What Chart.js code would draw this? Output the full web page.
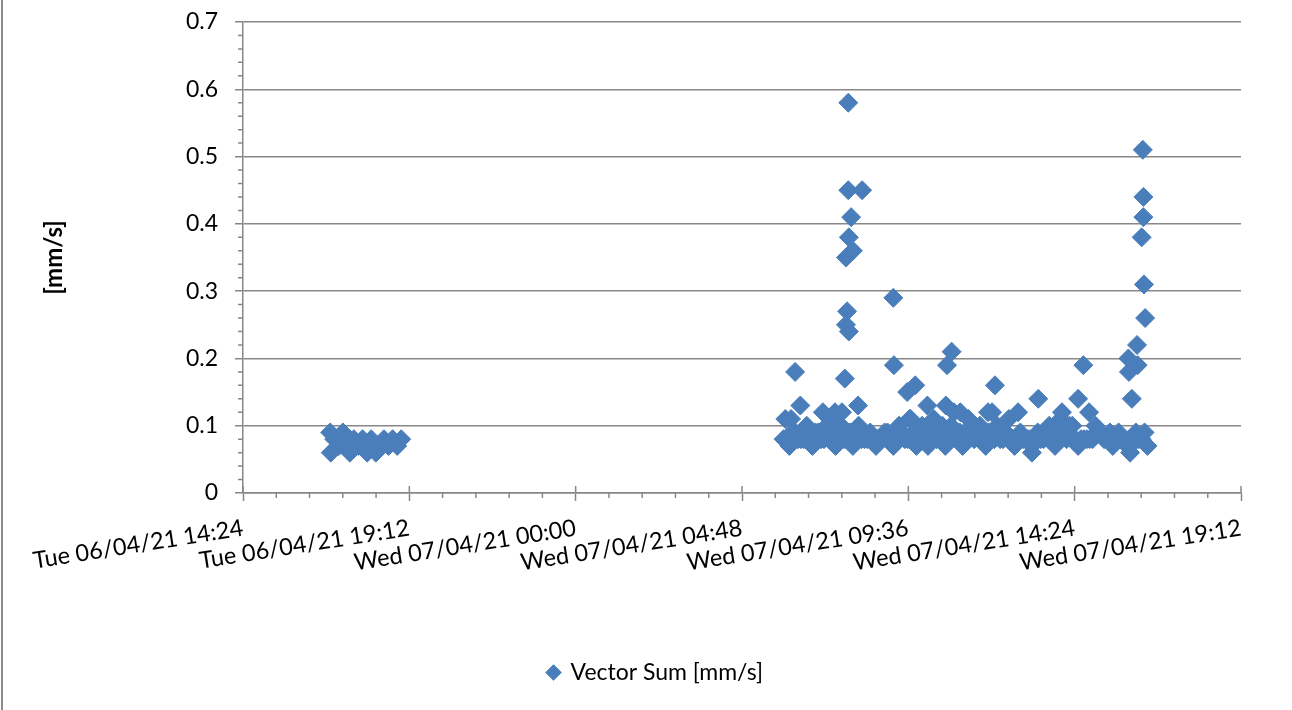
<!DOCTYPE html>
<html>
<head>
<meta charset="utf-8">
<title>Vector Sum [mm/s]</title>
<script src="https://cdn.jsdelivr.net/npm/chart.js@4.4.1/dist/chart.umd.min.js"></script>
<style>
  html, body { margin: 0; padding: 0; background: #fff; }
  #frame { position: relative; width: 1292px; height: 710px; }
  #frame .edge { position: absolute; left: 1px; top: 0; width: 2px; height: 710px; background: #8c8c8c; }
  canvas { display: block; }
</style>
</head>
<body>
<div id="frame">
  <canvas id="chart" width="1292" height="710"></canvas>
  <div class="edge"></div>
</div>
<script>
// Vector sum readings - Tue 06/04/21 evening + Wed 07/04/21 working day
const seriesLabel = 'Vector Sum [mm/s]';
const yTitle = '[mm/s]';

const xTickLabels = [
    'Tue 06/04/21 14:24', 'Tue 06/04/21 19:12', 'Wed 07/04/21 00:00',
    'Wed 07/04/21 04:48', 'Wed 07/04/21 09:36', 'Wed 07/04/21 14:24',
    'Wed 07/04/21 19:12'
];
const xStart = '14:24';   // Tue
const xEnd = '19:12';     // Wed
const xStep = 288;        // minutes between labels (4:48)
const yMin = 0, yMax = 0.7, yStep = 0.1;

// Tue 06/04
const tueTimes = [
    '16:55', '16:56', '17:02', '17:10', '17:17', '17:24', '17:29', '17:36', '17:44', '17:51',
    '17:59', '18:06', '18:14', '18:21', '18:28', '18:36', '18:43', '18:51', '18:58'
];
const tueValues = [
    0.09, 0.06, 0.08, 0.07, 0.09, 0.08, 0.06, 0.08, 0.07, 0.08,
    0.06, 0.08, 0.06, 0.07, 0.08, 0.07, 0.08, 0.07, 0.08
];

// Wed 07/04 - regular readings
const wedTimes = [
    '06:00','06:05','06:10','06:15','06:20','06:25','06:30','06:35','06:40','06:45','06:50','06:55',
    '07:00','07:05','07:10','07:15','07:20','07:25','07:30','07:35','07:40','07:45','07:50','07:55',
    '08:00','08:05','08:10','08:15','08:20','08:25','08:30','08:35','08:40','08:45','08:50','08:55',
    '09:00','09:05','09:10','09:15','09:20','09:25','09:30','09:35','09:40','09:45','09:50','09:55',
    '10:00','10:05','10:10','10:15','10:20','10:25','10:30','10:35','10:40','10:45','10:50','10:55',
    '11:00','11:05','11:10','11:15','11:20','11:25','11:30','11:35','11:40','11:45','11:50','11:55',
    '12:00','12:05','12:10','12:15','12:20','12:25','12:30','12:35','12:40','12:45','12:50','12:55',
    '13:00','13:05','13:10','13:15','13:20','13:25','13:30','13:35','13:40','13:45','13:50','13:55',
    '14:00','14:05','14:10','14:15','14:20','14:25','14:30','14:35','14:40','14:45','14:50','14:55',
    '15:00','15:05','15:10','15:15','15:20','15:25','15:30','15:35','15:40','15:45','15:50','15:55',
    '16:00','16:05','16:10','16:15','16:20','16:25','16:30'
];
const wedValues = [
    0.08, 0.08, 0.07, 0.09, 0.09, 0.08, 0.08, 0.08, 0.10, 0.08, 0.07, 0.09,
    0.09, 0.08, 0.08, 0.10, 0.11, 0.08, 0.07, 0.09, 0.10, 0.08, 0.08, 0.09,
    0.07, 0.08, 0.10, 0.08, 0.08, 0.08, 0.09, 0.08, 0.07, 0.08, 0.08, 0.09,
    0.09, 0.08, 0.07, 0.08, 0.10, 0.09, 0.08, 0.08, 0.11, 0.09, 0.07, 0.08,
    0.10, 0.08, 0.07, 0.09, 0.11, 0.08, 0.09, 0.10, 0.07, 0.08, 0.10, 0.09,
    0.08, 0.09, 0.07, 0.08, 0.11, 0.10, 0.08, 0.09, 0.10, 0.08, 0.07, 0.09,
    0.09, 0.08, 0.10, 0.08, 0.08, 0.09, 0.11, 0.08, 0.07, 0.08, 0.09, 0.08,
    0.08, 0.08, 0.07, 0.08, 0.09, 0.08, 0.08, 0.09, 0.10, 0.08, 0.07, 0.09,
    0.11, 0.09, 0.08, 0.10, 0.10, 0.08, 0.07, 0.08, 0.08, 0.08, 0.08, 0.08,
    0.10, 0.09, 0.09, 0.08, 0.08, 0.09, 0.07, 0.08, 0.09, 0.08, 0.08, 0.07,
    0.07, 0.08, 0.09, 0.08, 0.08, 0.09, 0.07
];

// Wed 07/04 - peaks / off-grid readings
const wedPeakTimes = [
    '06:03', '06:13', '06:20', '06:29', '07:08', '07:29', '07:41', '07:46', '07:48', '07:48',
    '07:50', '07:52', '07:52', '07:53', '07:53', '07:57', '08:00', '08:09', '08:16', '09:10',
    '09:11', '09:34', '09:38', '09:48', '10:09', '10:41', '10:43', '10:51', '10:55', '11:06',
    '11:54', '12:01', '12:06', '12:46', '13:10', '13:21', '14:02', '14:30', '14:39', '14:49',
    '15:57', '15:58', '16:00', '16:03', '16:12', '16:13', '16:20', '16:22', '16:23', '16:23',
    '16:24', '16:26'
];
const wedPeakValues = [
    0.11, 0.11, 0.18, 0.13, 0.12, 0.12, 0.12, 0.17, 0.35, 0.25,
    0.27, 0.58, 0.45, 0.38, 0.24, 0.41, 0.36, 0.13, 0.45, 0.29,
    0.19, 0.15, 0.11, 0.16, 0.13, 0.13, 0.19, 0.21, 0.12, 0.12,
    0.12, 0.12, 0.16, 0.12, 0.06, 0.14, 0.12, 0.14, 0.19, 0.12,
    0.20, 0.18, 0.06, 0.14, 0.22, 0.19, 0.38, 0.51, 0.44, 0.41,
    0.31, 0.26
];

const AXIS_GREY = '#878787';
const MARKER_BLUE = '#4a7ebb';

// minutes since Tue 06/04 00:00
function toMinutes(dayOffset, hhmm) {
    const [h, m] = hhmm.split(':').map(Number);
    return dayOffset * 1440 + h * 60 + m;
}

function toPoints(dayOffset, times, values) {
    return times.map((t, i) => ({ x: toMinutes(dayOffset, t), y: values[i] }));
}

const points = [
    ...toPoints(0, tueTimes, tueValues),
    ...toPoints(1, wedTimes, wedValues),
    ...toPoints(1, wedPeakTimes, wedPeakValues)
];

// Excel style minor tick marks (chart.js has none)
const minorTicks = {
    id: 'minorTicks',
    beforeDatasetsDraw(chart) {
        const { ctx, scales: { x, y } } = chart;
        ctx.save();
        ctx.strokeStyle = AXIS_GREY;
        ctx.lineWidth = 1.5;
        ctx.beginPath();
        const yMinor = yStep / 5;
        for (let i = 0; yMin + i * yMinor <= yMax + 1e-9; i++) {
            if (i % 5 === 0) continue;
            const py = y.getPixelForValue(yMin + i * yMinor);
            ctx.moveTo(y.right - 5, py);
            ctx.lineTo(y.right, py);
        }
        const xMinor = xStep / 5;
        for (let i = 0; x.min + i * xMinor <= x.max + 1e-9; i++) {
            const px = x.getPixelForValue(x.min + i * xMinor);
            if (i % 5 === 0) {
                ctx.moveTo(px, x.top - 7);   // major marks cross the axis
                ctx.lineTo(px, x.top);
            } else {
                ctx.moveTo(px, x.top);
                ctx.lineTo(px, x.top + 5);
            }
        }
        ctx.stroke();
        ctx.restore();
    }
};

Chart.defaults.font.family = 'Lato, "Open Sans", sans-serif';
Chart.defaults.color = '#000';

new Chart(document.getElementById('chart'), {
    type: 'scatter',
    data: {
        datasets: [{
            label: seriesLabel,
            data: points,
            pointStyle: 'rectRot',
            pointRadius: 9.5,
            pointHoverRadius: 9.5,
            borderWidth: 1,
            backgroundColor: MARKER_BLUE,
            borderColor: MARKER_BLUE
        }]
    },
    options: {
        responsive: false,
        animation: false,
        devicePixelRatio: 1,
        layout: { autoPadding: false, padding: { top: 22, right: 51, left: 70, bottom: 16 } },
        plugins: {
            legend: {
                position: 'bottom',
                labels: {
                    usePointStyle: true,
                    boxWidth: 11,
                    boxHeight: 11,
                    padding: 10,
                    color: '#000',
                    font: { size: 23 }
                }
            },
            tooltip: { enabled: false }
        },
        scales: {
            x: {
                type: 'linear',
                min: toMinutes(0, xStart),
                max: toMinutes(1, xEnd),
                afterFit(scale) { scale.height = 158; },
                grid: { drawOnChartArea: false, tickLength: 8, tickColor: AXIS_GREY, tickWidth: 1.5 },
                border: { color: AXIS_GREY, width: 1.5 },
                ticks: {
                    stepSize: xStep,
                    autoSkip: false,
                    minRotation: 9,
                    maxRotation: 9,
                    padding: 13,
                    color: '#000',
                    font: { size: 23.5 },
                    callback: (value, index) => xTickLabels[index]
                }
            },
            y: {
                min: yMin,
                max: yMax,
                afterFit(scale) {
                    scale.width = 173;
                    // let the layout padding alone decide where the plot starts
                    scale.paddingTop = 0;
                    scale.paddingBottom = 0;
                },
                grid: { color: AXIS_GREY, lineWidth: 1.5, tickLength: 8, tickColor: AXIS_GREY },
                border: { color: AXIS_GREY, width: 1.5 },
                ticks: { stepSize: yStep, padding: 17, color: '#000', font: { size: 23 } },
                title: {
                    display: true,
                    text: yTitle,
                    color: '#000',
                    font: { size: 24, weight: 'bold' },
                    padding: { top: -30, bottom: 0 }
                }
            }
        }
    },
    plugins: [minorTicks]
});
</script>
</body>
</html>
